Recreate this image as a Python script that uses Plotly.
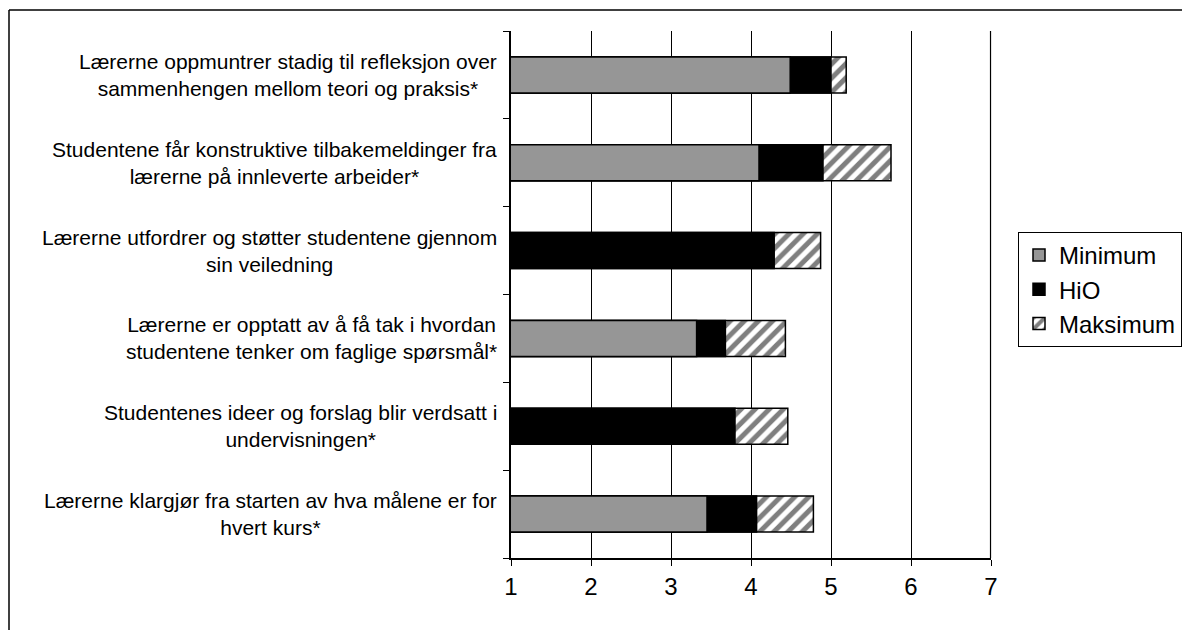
import plotly.graph_objects as go

categories = [
    "Lærerne oppmuntrer stadig til refleksjon over<br>sammenhengen mellom teori og praksis*",
    "Studentene får konstruktive tilbakemeldinger fra<br>lærerne på innleverte arbeider*",
    "Lærerne utfordrer og støtter studentene gjennom<br>sin veiledning",
    "Lærerne er opptatt av å få tak i hvordan<br>studentene tenker om faglige spørsmål*",
    "Studentenes ideer og forslag blir verdsatt i<br>undervisningen*",
    "Lærerne klargjør fra starten av hva målene er for<br>hvert kurs*",
]
minimum = [4.49, 4.10, None, 3.32, None, 3.45]
hio = [5.00, 4.90, 4.29, 3.68, 3.80, 4.07]
maksimum = [5.19, 5.75, 4.87, 4.43, 4.46, 4.78]
x_ticks = [1, 2, 3, 4, 5, 6, 7]

FONT = "Liberation Sans, Arial, sans-serif"
ids = list(range(len(categories)))

fig = go.Figure()
fig.add_trace(go.Bar(
    name="Maksimum", y=ids, x=maksimum, orientation="h", width=0.41,
    marker=dict(color="white", line=dict(color="black", width=1.5),
                pattern=dict(shape="/", fgcolor="black", bgcolor="white", size=10, solidity=0.5)),
))
fig.add_trace(go.Bar(
    name="HiO", y=ids, x=hio, orientation="h", width=0.41,
    marker=dict(color="black", line=dict(color="black", width=1.5)),
))
fig.add_trace(go.Bar(
    name="Minimum", y=ids, x=minimum, orientation="h", width=0.41,
    marker=dict(color="#969696", line=dict(color="black", width=1.5)),
))

annotations = []
for i, c in enumerate(categories):
    annotations.append(dict(
        text=c, x=0, xref="paper", y=i, yref="y", xanchor="right", yanchor="middle",
        xshift=-12, align="center", showarrow=False,
        font=dict(family=FONT, size=21, color="black"),
    ))

OFF = 8  # page body margin offset
px_l, px_r, px_t, px_b = 511 - OFF, 991 - OFF, 31 - OFF, 558 - OFF
W, H = 1190, 630
def xp(px):
    return (px - OFF - px_l) / (px_r - px_l)
def yp(py):
    return (px_b - (py - OFF)) / (px_b - px_t)

shapes = [
    dict(type="line", xref="paper", yref="paper", x0=xp(9), x1=xp(9), y0=yp(10), y1=yp(660),
         line=dict(color="black", width=1.5)),
    dict(type="line", xref="paper", yref="paper", x0=xp(9), x1=xp(1220), y0=yp(10), y1=yp(10),
         line=dict(color="black", width=1.5)),
    dict(type="line", xref="paper", yref="paper", x0=0.999, x1=0.999, y0=0, y1=1,
         line=dict(color="black", width=1.2)),
]

fig.update_layout(
    width=W, height=H,
    barmode="overlay",
    plot_bgcolor="white", paper_bgcolor="white",
    margin=dict(l=px_l, r=W - px_r, t=px_t, b=H - px_b),
    font=dict(family=FONT, color="black"),
    annotations=annotations,
    shapes=shapes,
    legend=dict(
        x=xp(1182), y=yp(232), xanchor="right", yanchor="top",
        traceorder="reversed", bordercolor="black", borderwidth=1, bgcolor="white",
        font=dict(family=FONT, size=24, color="black"),
    ),
    xaxis=dict(
        range=[1, 7], tickmode="array", tickvals=x_ticks, ticktext=[str(v) for v in x_ticks],
        showgrid=True, gridcolor="black", gridwidth=1,
        showline=True, linecolor="black", linewidth=1.5,
        ticks="outside", ticklen=6, tickcolor="black",
        tickfont=dict(family=FONT, size=24, color="black"), zeroline=False,
    ),
    yaxis=dict(
        type="category", autorange="reversed", showticklabels=False,
        tickmode="array", tickvals=ids, tickson="boundaries",
        ticks="outside", ticklen=6, tickcolor="black",
        showline=True, linecolor="black", linewidth=1.5, showgrid=False, zeroline=False,
    ),
)

fig.write_html("out.html")
